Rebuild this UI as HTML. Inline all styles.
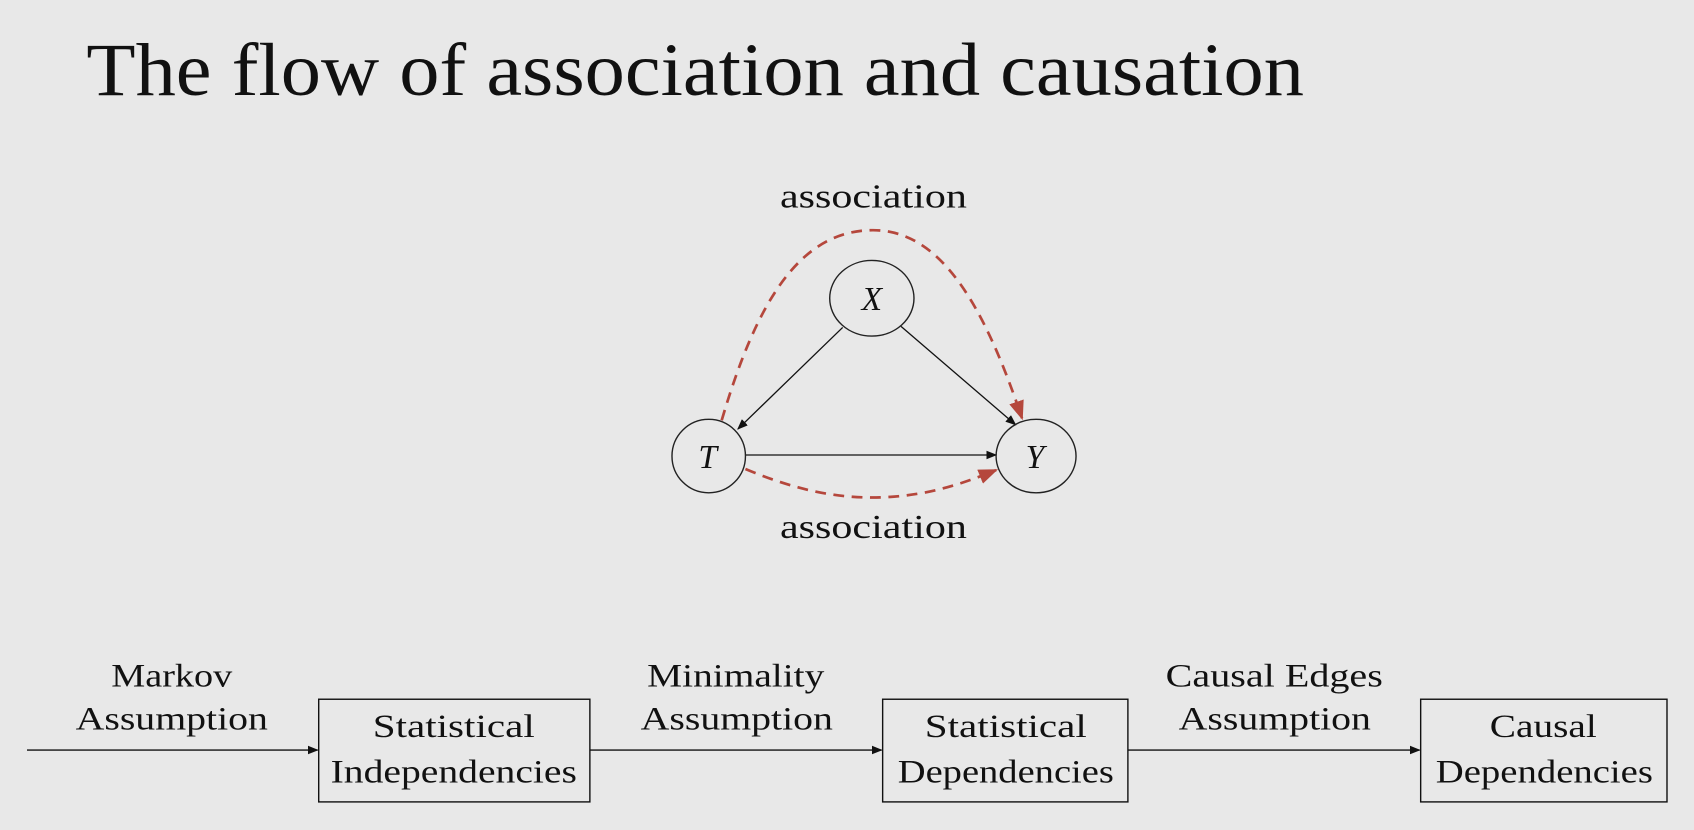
<!DOCTYPE html>
<html><head><meta charset="utf-8"><style>
html,body{margin:0;padding:0;background:#e8e8e8;}
svg{display:block;}
text{font-family:"Liberation Serif",serif;fill:#111;}
</style></head><body>
<svg width="1694" height="830" viewBox="0 0 1568 768" preserveAspectRatio="none" xmlns="http://www.w3.org/2000/svg">
<defs>
<marker id="ab" markerWidth="10" markerHeight="8" refX="9" refY="4" orient="auto" markerUnits="userSpaceOnUse"><path d="M0,0 L10,4 L0,8 z" fill="#111"/></marker>
<marker id="ar" markerWidth="18" markerHeight="14" refX="16" refY="7" orient="auto" markerUnits="userSpaceOnUse"><path d="M0,0 L18,7 L0,14 z" fill="#b5473c"/></marker>
</defs>
<rect width="1568" height="768" fill="#e8e8e8"/>
<text x="80" y="88" font-size="70" textLength="1127" lengthAdjust="spacingAndGlyphs">The flow of association and causation</text>

<text x="722" y="192" font-size="31" textLength="173" lengthAdjust="spacingAndGlyphs">association</text>
<text x="722" y="498" font-size="31" textLength="173" lengthAdjust="spacingAndGlyphs">association</text>

<path d="M668,389 C700,280 740,213 808,213 C870,213 910,280 946,387" fill="none" stroke="#b5473c" stroke-width="2.5" stroke-dasharray="10,7" marker-end="url(#ar)"/>
<path d="M690,434 C740,455 780,462 820,460 C860,458 890,448 922,435" fill="none" stroke="#b5473c" stroke-width="2.5" stroke-dasharray="10,7" marker-end="url(#ar)"/>

<line x1="780" y1="303" x2="683" y2="397" stroke="#111" stroke-width="1.2" marker-end="url(#ab)"/>
<line x1="834" y1="302" x2="940" y2="393" stroke="#111" stroke-width="1.2" marker-end="url(#ab)"/>
<line x1="690" y1="421" x2="922" y2="421" stroke="#111" stroke-width="1.2" marker-end="url(#ab)"/>

<ellipse cx="807" cy="276" rx="39" ry="35" fill="none" stroke="#222" stroke-width="1.3"/>
<ellipse cx="656" cy="422" rx="34" ry="34" fill="none" stroke="#222" stroke-width="1.3"/>
<ellipse cx="959" cy="422" rx="37" ry="34" fill="none" stroke="#222" stroke-width="1.3"/>
<text x="807" y="287" font-size="31" font-style="italic" text-anchor="middle">X</text>
<text x="655" y="433" font-size="31" font-style="italic" text-anchor="middle">T</text>
<text x="958" y="433" font-size="31" font-style="italic" text-anchor="middle">Y</text>

<g stroke="#111" stroke-width="1.3" fill="none">
<line x1="25" y1="694" x2="294" y2="694" marker-end="url(#ab)"/>
<line x1="546" y1="694" x2="816" y2="694" marker-end="url(#ab)"/>
<line x1="1044" y1="694" x2="1314" y2="694" marker-end="url(#ab)"/>
<rect x="295" y="647" width="251" height="95"/>
<rect x="817" y="647" width="227" height="95"/>
<rect x="1315" y="647" width="228" height="95"/>
</g>
<g font-size="30" lengthAdjust="spacingAndGlyphs">
<text x="103" y="635" textLength="112" lengthAdjust="spacingAndGlyphs">Markov</text>
<text x="70" y="675" textLength="178" lengthAdjust="spacingAndGlyphs">Assumption</text>
<text x="599" y="635" textLength="164" lengthAdjust="spacingAndGlyphs">Minimality</text>
<text x="593" y="675" textLength="178" lengthAdjust="spacingAndGlyphs">Assumption</text>
<text x="1079" y="635" textLength="201" lengthAdjust="spacingAndGlyphs">Causal Edges</text>
<text x="1091" y="675" textLength="178" lengthAdjust="spacingAndGlyphs">Assumption</text>
<text x="345" y="682" textLength="150" lengthAdjust="spacingAndGlyphs">Statistical</text>
<text x="306" y="724" textLength="228" lengthAdjust="spacingAndGlyphs">Independencies</text>
<text x="856" y="682" textLength="150" lengthAdjust="spacingAndGlyphs">Statistical</text>
<text x="831" y="724" textLength="200" lengthAdjust="spacingAndGlyphs">Dependencies</text>
<text x="1379" y="682" textLength="99" lengthAdjust="spacingAndGlyphs">Causal</text>
<text x="1329" y="724" textLength="201" lengthAdjust="spacingAndGlyphs">Dependencies</text>
</g>
</svg>
</body></html>
